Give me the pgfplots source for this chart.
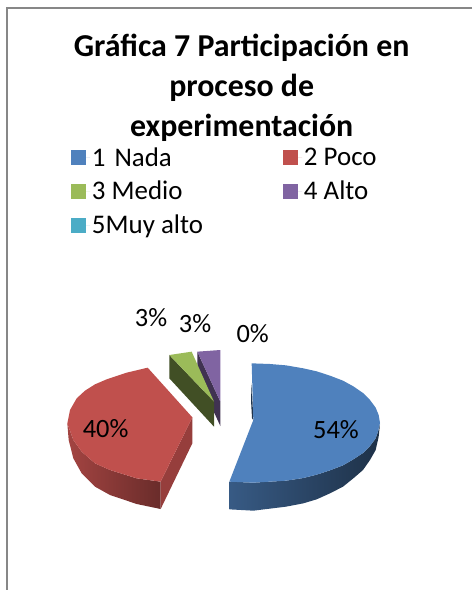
\documentclass[border=0pt]{standalone}
\usepackage{pgfplots}
\pgfplotsset{compat=1.18}
\usepackage{fontspec}
\setmainfont{Carlito}
\definecolor{cA}{HTML}{4F81BD}
\definecolor{cB}{HTML}{C0504D}
\definecolor{cC}{HTML}{9BBB59}
\definecolor{cD}{HTML}{8064A2}
\definecolor{cE}{HTML}{4BACC6}
\begin{document}
\begin{tikzpicture}
\begin{axis}[
  scale only axis, width=472bp, height=590bp,
  xmin=-120, xmax=1296, ymin=-900, ymax=870, y dir=reverse,
  axis lines=none, clip=true,
  legend columns=2,
  legend cell align=left,
  legend style={draw=none, fill=none, at={(axis cs:93,-463)}, anchor=north west,
    font=\fontsize{27}{32}\selectfont, inner sep=0pt, outer sep=0pt, row sep=9.5bp,
    /tikz/every even column/.style={column sep=78bp}},
  legend image code/.code={\fill[#1,draw=none] (0bp,-7.5bp) rectangle (15bp,7.5bp); \path[draw=none] (0bp,0bp) -- (19bp,0bp);},
]
\path (rel axis cs:0,0) -- (rel axis cs:1,1);
% frame
\addplot[forget plot, draw=black!47, line width=2bp] coordinates {(1296,-876) (-100,-876) (-100,870)};
% red side
\addplot[forget plot, draw=none, left color=cB!85!black, right color=cB!55!black] coordinates {(82,370) (86,420) (100,475) (125,520) (165,560) (210,585) (290,612) (362,627) (362,545) (290,535) (210,510) (165,490) (125,455) (100,420)};
\addplot[forget plot, draw=none, fill=cB!78!black] coordinates {(457,352) (457,430) (362,627) (362,545)};
\addplot[forget plot, draw=none, fill=cB] coordinates {(323,203) (457,352) (362,545) (290,535) (210,510) (165,490) (125,455) (100,420) (82,370) (90,330) (110,295) (135,272) (165,253) (200,238) (260,218)};
% purple
\addplot[forget plot, draw=none, fill=cD!50!black] coordinates {(472,155) (541,305) (541,378) (472,228)};
\addplot[forget plot, draw=none, fill=cD] coordinates {(472,155) (541,150) (541,305)};
% green
\addplot[forget plot, draw=none, fill=cC!42!black] coordinates {(388,165) (522,305) (522,380) (388,235)};
\addplot[forget plot, draw=none, fill=cC] coordinates {(388,165) (455,155) (522,305)};
% blue
\addplot[forget plot, draw=none, left color=cA!70!black, right color=cA!38!black] coordinates {(568,545) (568,628) (640,632) (738,620) (790,610) (830,598) (870,580) (909,560) (940,535) (969,510) (990,480) (1007,450) (1016,410) (1020,372) (1014,395) (1007,415) (990,438) (969,459) (940,478) (909,496) (870,511) (830,524) (790,534) (738,542) (640,548)};
\addplot[forget plot, draw=none, fill=cA!40!black] coordinates {(635,250) (640,360) (636,355) (633,300)};
\addplot[forget plot, draw=none, fill=cA] coordinates {(635,190) (690,192) (738,196) (790,205) (830,214) (870,227) (909,242) (940,259) (969,279) (990,300) (1007,323) (1016,345) (1020,369) (1014,395) (1007,415) (990,438) (969,459) (940,478) (909,496) (870,511) (830,524) (790,534) (738,542) (640,548) (568,545) (640,360)};
% legend entries
\addlegendimage{fill=cA}\addlegendentry{1\,\,Nada}
\addlegendimage{fill=cB}\addlegendentry{2 Poco}
\addlegendimage{fill=cC}\addlegendentry{3 Medio}
\addlegendimage{fill=cD}\addlegendentry{4 Alto}
\addlegendimage{fill=cE}\addlegendentry{5Muy alto}
% title and labels
\node[align=center, font=\fontsize{32}{40}\selectfont\bfseries] at (axis cs:605,-636) {Gráfica 7 Participación en\\proceso de\\experimentación};
\node[font=\fontsize{26.5}{30}\selectfont] at (axis cs:888,390) {54\%};
\node[font=\fontsize{26.5}{30}\selectfont] at (axis cs:197,385) {40\%};
\node[font=\fontsize{26.5}{30}\selectfont] at (axis cs:333,52) {3\%};
\node[font=\fontsize{26.5}{30}\selectfont] at (axis cs:465,70) {3\%};
\node[font=\fontsize{26.5}{30}\selectfont] at (axis cs:638,100) {0\%};
\end{axis}
\end{tikzpicture}
\end{document}
